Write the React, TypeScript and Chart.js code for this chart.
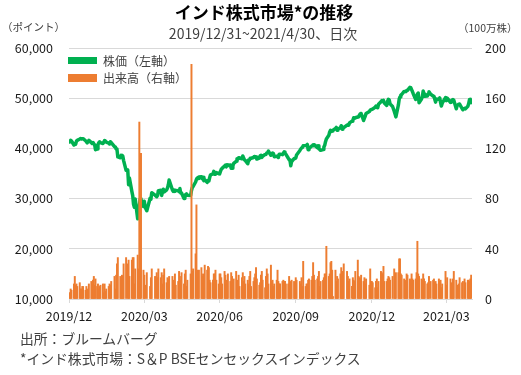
import { useEffect, useRef } from "react";
import { Chart, registerables } from "chart.js";

Chart.register(...registerables);

const FONT = "'Noto Sans CJK JP', 'Noto Sans', sans-serif";

const startDate = "2019-12-31";
const endDate = "2021-04-30";
const holidays = [
  "2020-02-21", "2020-03-10", "2020-04-02", "2020-04-06", "2020-04-10", "2020-04-14",
  "2020-05-01", "2020-05-25", "2020-10-02", "2020-11-16", "2020-11-30", "2020-12-25",
  "2021-01-26", "2021-03-11", "2021-03-29", "2021-04-02", "2021-04-14", "2021-04-21",
];
const specialSessions = ["2020-02-01", "2020-11-14"];

const tickDates = ["2019-12-31", "2020-03-31", "2020-06-30", "2020-09-30", "2020-12-31", "2021-03-31"];
const tickLabels = ["2019/12", "2020/03", "2020/06", "2020/09", "2020/12", "2021/03"];

const leftTicks = [10000, 20000, 30000, 40000, 50000, 60000];
const rightTicks = [0, 40, 80, 120, 160, 200];

// Sensex close (points), one value per trading day
const closeValues = [
  41254,
  // 2020/01
  41306, 41626, 41464, 40676, 40869, 40817, 41452, 41599, 41860, 41952, 41873, 41933, 41945, 41529, 41324, 41116, 41386, 41613, 41155, 40967, 41198, 40914, 40723,
  // 2020/02
  39736, 39872, 40789, 41143, 41306, 41141, 40980, 41216, 41566, 41460, 41258, 41056, 40894, 41323, 41170, 40363, 40282, 39889, 39746, 38297,
  // 2020/03
  38144, 38623, 38409, 38471, 37577, 35635, 35697, 32778, 34103, 31390, 30579, 28869, 28288, 29916, 25981, 26674, 28536, 29947, 29816, 28440, 29468,
  // 2020/04
  28265, 27591, 30067, 29894, 31160, 30690, 30380, 30602, 31589, 31648, 30636, 31379, 31863, 31327, 31743, 32115, 32720, 33717,
  // 2020/05
  31715, 31453, 31686, 31443, 31642, 31561, 31371, 32009, 31123, 31097, 30029, 30196, 30819, 30933, 30673, 30609, 31605, 32201, 32424,
  // 2020/06
  33304, 33825, 34110, 33981, 34287, 34371, 33957, 34247, 33538, 33781, 33229, 33605, 33508, 34208, 34732, 34911, 35431, 34869, 34843, 35171, 34962, 34916,
  // 2020/07
  35414, 35843, 36021, 36487, 36675, 36330, 36738, 36594, 36694, 36033, 36052, 36472, 37020, 37418, 37930, 37871, 38140, 38129, 37935, 38493, 38071, 37736, 37607,
  // 2020/08
  36940, 37688, 37663, 38025, 38040, 38182, 38407, 38370, 38310, 37877, 38051, 38528, 38615, 38220, 38434, 38799, 38843, 39074, 39113, 39467, 38628,
  // 2020/09
  38900, 39086, 38991, 38357, 38417, 38365, 38194, 38840, 38855, 38757, 39044, 39303, 38980, 38845, 38034, 37734, 37668, 36553, 37389, 37982, 37973, 38068,
  // 2020/10
  38697, 39574, 39878, 40079, 40182, 40509, 40593, 40625, 40795, 39728, 39983, 40432, 40544, 40707, 40558, 40685, 40146, 40522, 39922, 39749, 39614,
  // 2020/11
  39758, 40261, 40616, 41340, 41893, 42597, 43278, 43594, 43357, 43443, 43638, 43953, 44180, 43600, 43882, 44077, 44523, 43828, 44260, 44150,
  // 2020/12
  44655, 44618, 44633, 45080, 45426, 45609, 46104, 45960, 46099, 46253, 46264, 46666, 46890, 46961, 45554, 46007, 46444, 46973, 47354, 47613, 47746, 47751,
  // 2021/01
  47868, 48177, 48437, 48174, 48093, 48782, 49269, 49517, 49492, 49584, 49035, 48564, 49398, 49792, 49625, 48879, 48348, 47410, 46874, 46286,
  // 2021/02
  48601, 49798, 50256, 50614, 50732, 51349, 51329, 51309, 51532, 51544, 52154, 52104, 51704, 51324, 50890, 49744, 50195, 50782, 51039, 49100,
  // 2021/03
  49850, 50297, 51445, 50846, 50406, 50441, 50851, 51280, 50792, 50395, 50363, 49801, 49216, 49858, 49771, 50051, 49180, 48440, 49008, 50136, 49509,
  // 2021/04
  50030, 49159, 49201, 49662, 49746, 49591, 47883, 48544, 48804, 48832, 47949, 47706, 47973, 47878, 48387, 48944, 49734, 49766, 48782,
];

// Volume (million shares), one value per trading day
const volumeValues = [
  5,
  // 2020/01
  5, 8, 7, 12, 18, 11, 12, 10, 13, 8, 8, 10, 10, 7, 10, 7, 8, 12, 14, 11, 15, 18, 11,
  // 2020/02
  16, 10, 12, 8, 10, 11, 12, 5, 12, 6, 8, 10, 12, 11, 14, 18, 8, 19, 28, 33,
  // 2020/03
  18, 8, 19, 18, 28, 33, 28, 31, 18, 31, 33, 33, 12, 24, 35, 24, 141, 35, 116, 23, 19,
  // 2020/04
  11, 21, 10, 17, 24, 18, 21, 17, 24, 17, 21, 12, 19, 24, 13, 17, 16, 18,
  // 2020/05
  18, 15, 12, 20, 11, 14, 22, 18, 15, 21, 12, 20, 23, 10, 15, 20, 187, 22, 24,
  // 2020/06
  36, 75, 23, 18, 23, 25, 18, 20, 12, 27, 23, 26, 25, 15, 13, 15, 20, 20, 23, 15, 12, 20,
  // 2020/07
  20, 17, 12, 22, 19, 15, 11, 20, 14, 21, 18, 13, 16, 22, 12, 15, 19, 10, 17, 21, 14, 18, 12,
  // 2020/08
  15, 12, 18, 22, 10, 14, 17, 20, 25, 16, 11, 13, 19, 22, 15, 9, 18, 24, 20, 12, 27,
  // 2020/09
  14, 15, 10, 12, 15, 23, 14, 12, 12, 14, 15, 14, 14, 12, 12, 18, 10, 14, 15, 14, 12, 17,
  // 2020/10
  15, 14, 12, 17, 10, 30, 10, 12, 12, 15, 16, 15, 18, 29, 19, 15, 16, 18, 22, 10, 14,
  // 2020/11
  15, 17, 20, 20, 42, 18, 20, 29, 30, 23, 2, 23, 14, 18, 16, 20, 25, 22, 14, 28,
  // 2020/12
  22, 18, 14, 16, 10, 17, 15, 14, 22, 31, 18, 17, 16, 19, 14, 17, 12, 16, 11, 24, 14, 14,
  // 2021/01
  13, 9, 14, 16, 9, 14, 22, 21, 20, 26, 14, 14, 16, 18, 17, 15, 18, 24, 17, 21,
  // 2021/02
  21, 32, 32, 20, 19, 16, 15, 14, 20, 19, 16, 15, 20, 16, 15, 16, 21, 46, 20, 18,
  // 2021/03
  16, 15, 20, 16, 14, 12, 13, 18, 14, 15, 16, 13, 14, 12, 16, 14, 15, 9, 12, 22, 11,
  // 2021/04
  17, 16, 13, 12, 16, 22, 15, 11, 12, 17, 13, 14, 16, 13, 15, 15, 14, 16, 19,
];

const DAY = 86400000;
const toUTC = (iso: string) => {
  const [y, m, d] = iso.split("-").map(Number);
  return Date.UTC(y, m - 1, d);
};
const dayOffset = (iso: string) => Math.round((toUTC(iso) - toUTC(startDate)) / DAY);

function tradingDayOffsets(): number[] {
  const out: number[] = [];
  const s = toUTC(startDate);
  const e = toUTC(endDate);
  for (let t = s; t <= e; t += DAY) {
    const d = new Date(t);
    const iso = d.toISOString().slice(0, 10);
    const wd = d.getUTCDay();
    const open = (wd !== 0 && wd !== 6 && !holidays.includes(iso)) || specialSessions.includes(iso);
    if (open) out.push(Math.round((t - s) / DAY));
  }
  return out;
}

export default function App() {
  const ref = useRef<HTMLCanvasElement | null>(null);

  useEffect(() => {
    if (!ref.current) return;
    const days = tradingDayOffsets();
    const n = Math.min(days.length, closeValues.length, volumeValues.length);
    const linePts = [];
    const barPts = [];
    for (let i = 0; i < n; i++) {
      linePts.push({ x: days[i], y: closeValues[i] });
      barPts.push({ x: days[i], y: volumeValues[i] });
    }
    const tickDays = tickDates.map(dayOffset);
    const lastDay = dayOffset(endDate) + 1;
    const tickFont = { family: FONT, size: 12.5 };

    const chart = new Chart(ref.current, {
      type: "bar",
      data: {
        datasets: [
          {
            type: "line",
            label: "株価（左軸）",
            data: linePts,
            yAxisID: "y",
            borderColor: "#00B050",
            backgroundColor: "#00B050",
            borderWidth: 3.5,
            pointRadius: 0,
            tension: 0,
            borderJoinStyle: "round",
            order: 1,
          } as any,
          {
            type: "bar",
            label: "出来高（右軸）",
            data: barPts,
            yAxisID: "y1",
            backgroundColor: "#ED7D31",
            barThickness: 1.3,
            order: 0,
          } as any,
        ],
      },
      options: {
        animation: false,
        responsive: false,
        maintainAspectRatio: false,
        layout: { padding: { top: 48, left: 0, right: 0, bottom: 0 } },
        plugins: {
          legend: { display: false },
          tooltip: { enabled: false },
        },
        scales: {
          x: {
            type: "linear",
            min: 0,
            max: lastDay,
            offset: false,
            afterFit: (s: any) => {
              s.height = 76;
            },
            afterBuildTicks: (s: any) => {
              s.ticks = tickDays.map((v) => ({ value: v }));
            },
            ticks: {
              autoSkip: false,
              maxRotation: 0,
              padding: 6,
              color: "#1a1a1a",
              font: tickFont,
              callback: (_v: any, i: number) => tickLabels[i],
            },
            grid: {
              drawOnChartArea: false,
              drawTicks: true,
              tickLength: 4,
              color: "#D9D9D9",
              offset: false,
            },
            border: { display: true, color: "#D9D9D9" },
          },
          y: {
            type: "linear",
            position: "left",
            min: leftTicks[0],
            max: leftTicks[leftTicks.length - 1],
            afterFit: (s: any) => {
              s.width = 69;
            },
            afterBuildTicks: (s: any) => {
              s.ticks = leftTicks.map((v) => ({ value: v }));
            },
            ticks: {
              padding: 16,
              color: "#1a1a1a",
              font: tickFont,
              callback: (v: any) => Number(v).toLocaleString("en-US"),
            },
            grid: { color: "#D9D9D9", drawTicks: false },
            border: { display: false },
          },
          y1: {
            type: "linear",
            position: "right",
            min: rightTicks[0],
            max: rightTicks[rightTicks.length - 1],
            afterFit: (s: any) => {
              s.width = 49;
            },
            afterBuildTicks: (s: any) => {
              s.ticks = rightTicks.map((v) => ({ value: v }));
            },
            ticks: {
              padding: 13,
              color: "#1a1a1a",
              font: tickFont,
            },
            grid: { drawOnChartArea: false, drawTicks: false },
            border: { display: false },
          },
        },
      } as any,
    });
    return () => chart.destroy();
  }, []);

  const abs = (o: any) => ({
    position: "absolute" as const,
    whiteSpace: "nowrap" as const,
    ...o,
  });

  return (
    <div
      style={{
        position: "absolute",
        left: 0,
        top: 0,
        width: 521,
        height: 375,
        background: "#fff",
        fontFamily: FONT,
        overflow: "hidden",
      }}
    >
      <canvas ref={ref} width={521} height={375} style={{ position: "absolute", left: 0, top: 0 }} />
      <div style={abs({ left: 264, top: 3, transform: "translateX(-50%)", fontSize: 17, lineHeight: "18px", fontWeight: 700, color: "#000" })}>
        インド株式市場*の推移
      </div>
      <div style={abs({ left: 263, top: 25, transform: "translateX(-50%)", fontSize: 14, lineHeight: "16px", color: "#404040" })}>
        2019/12/31~2021/4/30、日次
      </div>
      <div style={abs({ left: 2, top: 20, fontSize: 10.5, lineHeight: "14px", color: "#404040" })}>（ポイント）</div>
      <div style={abs({ left: 458, top: 21, fontSize: 10.5, lineHeight: "14px", color: "#404040" })}>（100万株）</div>

      <div style={abs({ left: 68, top: 57, width: 29, height: 7, background: "#00B050" })} />
      <div style={abs({ left: 103, top: 53, fontSize: 12, lineHeight: "16px", color: "#404040" })}>株価（左軸）</div>
      <div style={abs({ left: 68, top: 74, width: 29, height: 8, background: "#ED7D31" })} />
      <div style={abs({ left: 103, top: 70, fontSize: 12, lineHeight: "16px", color: "#404040" })}>出来高（右軸）</div>

      <div style={abs({ left: 20, top: 330, fontSize: 13.8, lineHeight: "16px", color: "#404040" })}>出所：ブルームバーグ</div>
      <div style={abs({ left: 20, top: 350, fontSize: 13.8, lineHeight: "16px", color: "#404040" })}>
        *インド株式市場：S＆P BSEセンセックスインデックス
      </div>
    </div>
  );
}
